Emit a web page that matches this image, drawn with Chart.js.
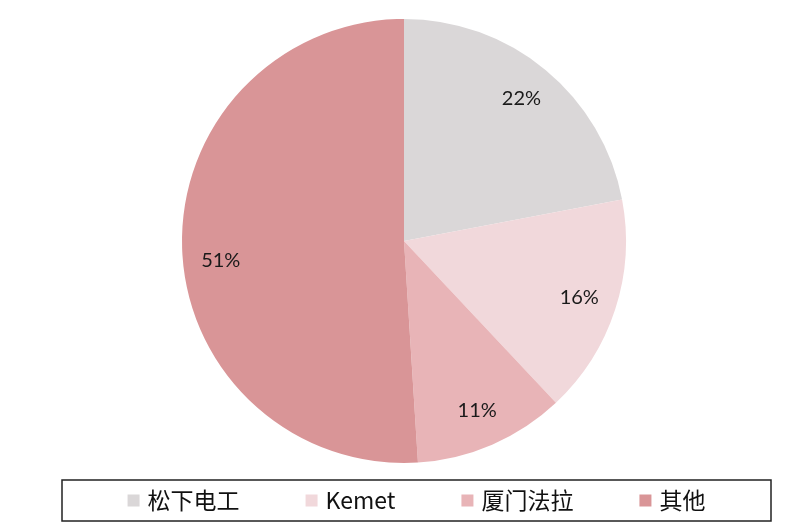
<!DOCTYPE html>
<html>
<head>
<meta charset="utf-8">
<script src="https://cdn.jsdelivr.net/npm/chart.js@4"></script>
<style>
  body { margin: 0; background: #fff; }
  canvas { display: block; }
</style>
</head>
<body>
<canvas id="myChart" width="802" height="526"></canvas>
<script>
// data
const labels = ["松下电工", "Kemet", "厦门法拉", "其他"];
const shares = [22, 16, 11, 51];
const colors = ["#dad7d8", "#f1d8db", "#e8b4b7", "#d99597"];

// percent labels inside each slice
const sliceLabels = {
  id: "sliceLabels",
  afterDatasetsDraw(chart) {
    const ctx = chart.ctx;
    const meta = chart.getDatasetMeta(0);
    ctx.save();
    ctx.font = "20px Lato";
    ctx.fillStyle = "#1a1a1a";
    ctx.textAlign = "center";
    ctx.textBaseline = "middle";
    meta.data.forEach((arc, i) => {
      const p = arc.getProps(["x", "y", "startAngle", "endAngle", "outerRadius"], true);
      // big slice: Excel-style best fit pushes the label a little lower
      const mid = (p.startAngle + p.endAngle) / 2 - (shares[i] > 50 ? 0.075 : 0);
      const r = p.outerRadius * 0.83;
      ctx.fillText(shares[i] + "%", p.x + Math.cos(mid) * r, p.y + Math.sin(mid) * r);
    });
    ctx.restore();
  }
};

// boxed legend under the pie
const boxLegend = {
  id: "boxLegend",
  afterDraw(chart) {
    const ctx = chart.ctx;
    const box = { left: 62, top: 480, right: 771, bottom: 521 };
    ctx.save();
    ctx.strokeStyle = "#222";
    ctx.lineWidth = 1.5;
    ctx.strokeRect(box.left, box.top, box.right - box.left, box.bottom - box.top);

    ctx.font = "23px 'Noto Sans CJK SC'";
    ctx.textBaseline = "middle";
    const sq = 12, gapText = 8, gapItem = 66;
    const widths = labels.map(t => sq + gapText + ctx.measureText(t).width);
    const total = widths.reduce((a, b) => a + b, 0) + gapItem * (labels.length - 1);
    let x = (box.left + box.right) / 2 - total / 2;
    const cy = (box.top + box.bottom) / 2;
    labels.forEach((t, i) => {
      ctx.fillStyle = colors[i];
      ctx.fillRect(x, cy - sq / 2, sq, sq);
      ctx.fillStyle = "#111";
      ctx.fillText(t, x + sq + gapText, cy);
      x += widths[i] + gapItem;
    });
    ctx.restore();
  }
};

new Chart(document.getElementById("myChart"), {
  type: "pie",
  data: {
    labels: labels,
    datasets: [{
      data: shares,
      backgroundColor: colors,
      borderWidth: 0
    }]
  },
  options: {
    responsive: false,
    animation: false,
    radius: 222,
    layout: { padding: { top: 19, bottom: 63, left: 6, right: 0 } },
    plugins: {
      legend: { display: false },
      tooltip: { enabled: false }
    }
  },
  plugins: [sliceLabels, boxLegend]
});
</script>
</body>
</html>
